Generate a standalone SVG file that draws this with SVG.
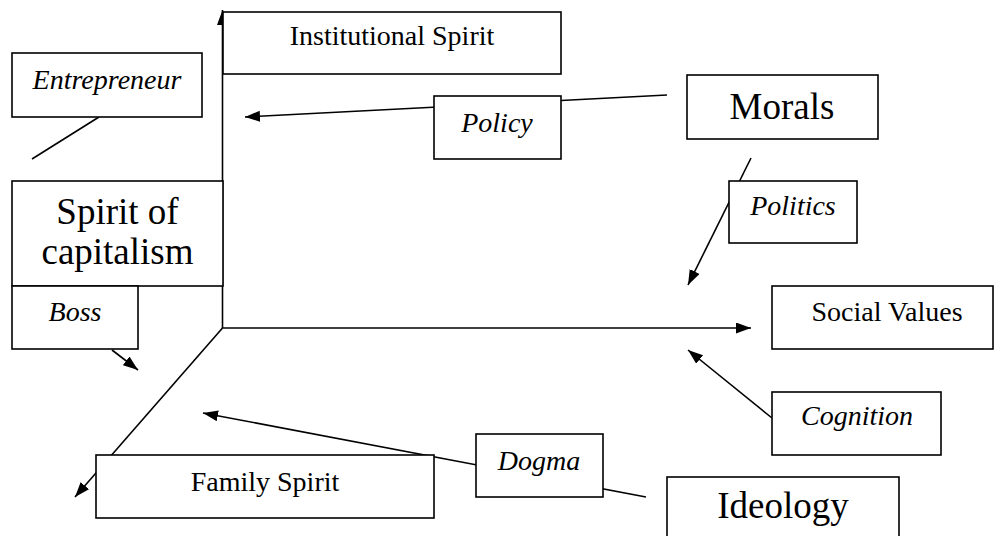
<svg xmlns="http://www.w3.org/2000/svg" width="994" height="536" viewBox="0 0 994 536">
<style>
.box{fill:#fff;stroke:#000;stroke-width:1.6}
.ln{fill:none;stroke:#000;stroke-width:1.6}
.t{font-family:'Liberation Serif','Times New Roman','DejaVu Serif',Times,serif;font-size:28px;text-anchor:middle;fill:#000}
.i{font-style:italic}
.big{font-size:37px}
</style>
<defs>
<marker id="ah" markerUnits="userSpaceOnUse" markerWidth="16" markerHeight="12" refX="15" refY="5.5" orient="auto">
<path d="M0,0 L15,5.5 L0,11 z" fill="#000"/>
</marker>
</defs>
<rect width="994" height="536" fill="#fff"/>
<g id="connectors">
<line class="ln" x1="222.5" y1="328" x2="222.5" y2="10" marker-end="url(#ah)"/>
<line class="ln" x1="222.5" y1="328" x2="751" y2="328" marker-end="url(#ah)"/>
<line class="ln" x1="222.5" y1="328" x2="75" y2="497" marker-end="url(#ah)"/>
<line class="ln" x1="667" y1="95" x2="245" y2="117" marker-end="url(#ah)"/>
<line class="ln" x1="751" y1="158" x2="688" y2="285" marker-end="url(#ah)"/>
<line class="ln" x1="772" y1="418" x2="688" y2="350" marker-end="url(#ah)"/>
<line class="ln" x1="646" y1="497" x2="203" y2="413" marker-end="url(#ah)"/>
<line class="ln" x1="112" y1="350" x2="138" y2="370" marker-end="url(#ah)"/>
<line class="ln" x1="99" y1="117" x2="32" y2="159"/>
</g>
<g id="institutional-spirit">
<rect class="box" x="223" y="12" width="338" height="62"/>
<text class="t" x="392" y="45" font-family="Liberation Serif">Institutional Spirit</text>
</g>
<g id="entrepreneur">
<rect class="box" x="12" y="53" width="190" height="64"/>
<text class="t i" x="107" y="89">Entrepreneur</text>
</g>
<g id="policy">
<rect class="box" x="434" y="96" width="127" height="63"/>
<text class="t i" x="497" y="132">Policy</text>
</g>
<g id="morals">
<rect class="box" x="687" y="75" width="191" height="64"/>
<text class="t big" x="782" y="119">Morals</text>
</g>
<g id="politics">
<rect class="box" x="729" y="181" width="128" height="62"/>
<text class="t i" x="793" y="215">Politics</text>
</g>
<g id="spirit-of-capitalism">
<rect class="box" x="12" y="181" width="211" height="105"/>
<text class="t big" x="117.5" y="224">Spirit of</text>
<text class="t big" x="117.5" y="264">capitalism</text>
</g>
<g id="boss">
<rect class="box" x="12" y="286" width="126" height="63"/>
<text class="t i" x="75" y="321">Boss</text>
</g>
<g id="social-values">
<rect class="box" x="772" y="286" width="221" height="63"/>
<text class="t" x="887" y="321">Social Values</text>
</g>
<g id="cognition">
<rect class="box" x="772" y="392" width="169" height="63"/>
<text class="t i" x="857" y="425">Cognition</text>
</g>
<g id="dogma">
<rect class="box" x="476" y="434" width="127" height="63"/>
<text class="t i" x="539" y="470">Dogma</text>
</g>
<g id="family-spirit">
<rect class="box" x="96" y="455" width="338" height="63"/>
<text class="t" x="265" y="491">Family Spirit</text>
</g>
<g id="ideology">
<rect class="box" x="667" y="477" width="232" height="70"/>
<text class="t big" x="783" y="518">Ideology</text>
</g>
</svg>
